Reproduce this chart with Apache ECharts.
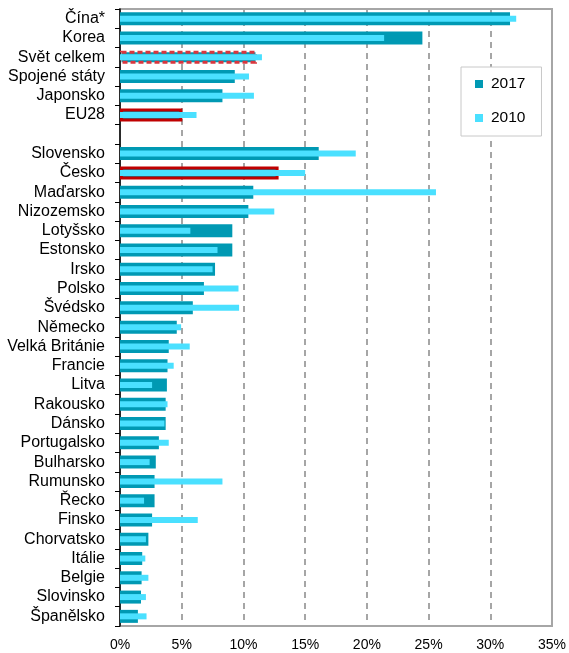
<!DOCTYPE html>
<html>
<head>
<meta charset="utf-8">
<script src="https://cdn.jsdelivr.net/npm/echarts@6/dist/echarts.min.js"></script>
<style>
html,body{margin:0;padding:0;background:#fff;}
#chart{width:569px;height:653px;}
</style>
</head>
<body>
<div id="chart"></div>
<script>
const categories = ['Čína*','Korea','Svět celkem','Spojené státy','Japonsko','EU28','','Slovensko','Česko','Maďarsko','Nizozemsko','Lotyšsko','Estonsko','Irsko','Polsko','Švédsko','Německo','Velká Británie','Francie','Litva','Rakousko','Dánsko','Portugalsko','Bulharsko','Rumunsko','Řecko','Finsko','Chorvatsko','Itálie','Belgie','Slovinsko','Španělsko'];
const values2017 = [31.6,24.5,11.1,9.3,8.3,5.05,null,16.1,12.85,10.8,10.4,9.1,9.1,7.7,6.8,5.9,4.6,3.95,3.85,3.8,3.7,3.7,3.15,2.9,2.8,2.8,2.6,2.3,1.8,1.75,1.7,1.45];
const values2010 = [32.1,21.4,11.5,10.45,10.85,6.2,null,19.1,15.0,25.6,12.5,5.7,7.9,7.5,9.6,9.65,4.95,5.65,4.35,2.6,3.85,3.6,3.95,2.4,8.3,1.95,6.3,2.1,2.05,2.3,2.1,2.15];
const seriesNames = ['2017','2010'];
const xTicks = {min:0, max:35, interval:5};

const FONT = 'Liberation Sans, Arial, sans-serif';
const solidRed = {borderColor:'#c00000', borderWidth:3, borderType:'solid'};
const dashedRed = {borderColor:'#d9363e', borderWidth:3, borderType:[5,3]};
const highlight = {'Svět celkem': dashedRed, 'EU28': solidRed, 'Česko': solidRed};

const data2017 = values2017.map((v,i) => {
  const h = highlight[categories[i]];
  return h ? {value:v, itemStyle:h} : v;
});

const chart = echarts.init(document.getElementById('chart'), null, {renderer:'canvas'});
chart.setOption({
  animation:false,
  backgroundColor:'#fff',
  textStyle:{fontFamily:FONT},
  grid:{left:120, right:17, top:9, bottom:27, show:true, borderColor:'#a6a6a6', borderWidth:2, backgroundColor:'transparent'},
  legend:{
    orient:'vertical', left:461, top:67,
    backgroundColor:'#fff', borderColor:'#c8c8c8', borderWidth:1,
    padding:[9,16,10,14], itemGap:18,
    icon:'rect', itemWidth:8, itemHeight:8,
    textStyle:{fontFamily:FONT, fontSize:15.5, color:'#000', padding:[0,0,0,3]},
    data:seriesNames
  },
  xAxis:{
    type:'value', min:xTicks.min, max:xTicks.max, interval:xTicks.interval,
    axisLine:{show:false}, axisTick:{show:false},
    axisLabel:{formatter:'{value}%', fontFamily:FONT, fontSize:14, color:'#000', margin:12},
    splitLine:{show:true, lineStyle:{color:'#a6a6a6', width:2, type:[6,5]}}
  },
  yAxis:[{
    type:'category', data:categories, inverse:true,
    axisLine:{show:true, lineStyle:{color:'#000', width:1.5}},
    axisTick:{show:true, length:5, lineStyle:{color:'#000', width:1}},
    axisLabel:{fontFamily:FONT, fontSize:16, color:'#000', margin:15, interval:0},
    splitLine:{show:false}
  },{
    type:'category', data:categories, inverse:true, show:false
  }],
  series:[{
    name:seriesNames[0], type:'bar', yAxisIndex:0, data:data2017, barWidth:13,
    itemStyle:{color:'#0099b3'}, emphasis:{disabled:true}, z:2
  },{
    name:seriesNames[1], type:'bar', yAxisIndex:1, data:values2010, barWidth:6,
    itemStyle:{color:'#4ae0ff'}, emphasis:{disabled:true}, z:3
  }]
});
</script>
</body>
</html>
